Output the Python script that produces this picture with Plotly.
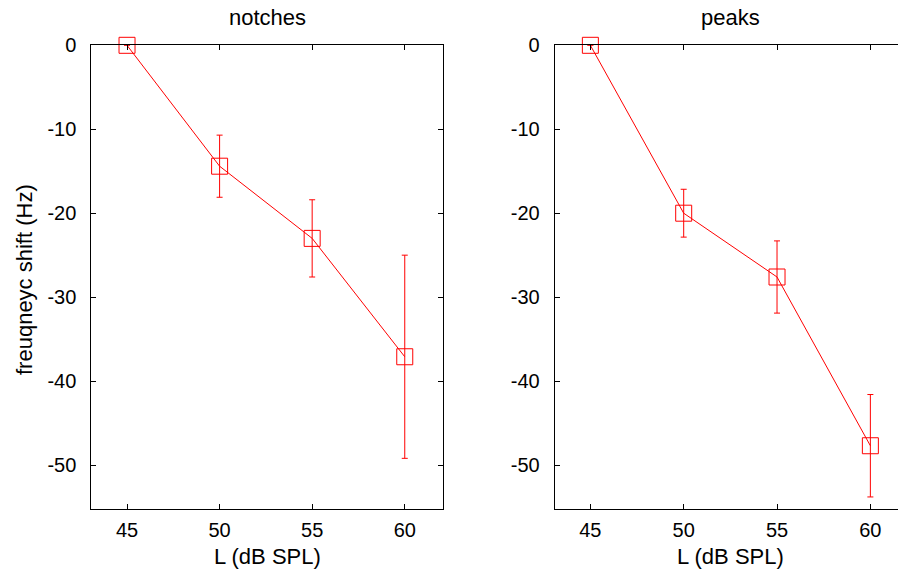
import plotly.graph_objects as go

# Data
levels = [45, 50, 55, 60]
notch_shift = [0.0, -14.4, -23.0, -37.1]
notch_err = [0.0, 3.7, 4.6, 12.1]
peak_shift = [0.0, -20.0, -27.6, -47.7]
peak_err = [0.0, 2.85, 4.3, 6.1]
panel_titles = ["notches", "peaks"]
x_title = "L (dB SPL)"
y_title = "freuqneyc shift (Hz)"
x_ticks = [45, 50, 55, 60]
x_tick_text = ["45", "50", "55", "60"]
y_ticks = [0, -10, -20, -30, -40, -50]
y_tick_text = ["0", "-10", "-20", "-30", "-40", "-50"]

W, H = 898, 570
FONT = "Liberation Sans, Arial, sans-serif"
RED = "#ff0000"

def px_x(p):
    return p / W

def px_y(p):
    return 1 - p / H

fig = go.Figure()
for i, (ys, es) in enumerate([(notch_shift, notch_err), (peak_shift, peak_err)]):
    xa = "x" if i == 0 else "x2"
    ya = "y" if i == 0 else "y2"
    fig.add_trace(go.Scatter(
        x=levels, y=ys, xaxis=xa, yaxis=ya, mode="lines+markers",
        line=dict(color=RED, width=1),
        marker=dict(symbol="square-open", size=16, color=RED, line=dict(width=1, color=RED)),
        error_y=dict(type="data", array=es, visible=True, color=RED, thickness=1, width=3),
        cliponaxis=False,
        showlegend=False,
    ))

axis_common = dict(
    showline=True, linecolor="black", linewidth=1, ticks="inside", ticklen=5,
    tickcolor="black", showgrid=False, zeroline=False, automargin=False,
    tickfont=dict(family=FONT, size=20, color="black"),
)

top, bottom = 45.3, 508.7
fig.update_layout(
    width=W, height=H, margin=dict(l=0, r=0, t=0, b=0, pad=0, autoexpand=False),
    paper_bgcolor="white", plot_bgcolor="white",
    xaxis=dict(domain=[px_x(91.3), px_x(442.7)], range=[43.07, 62.05],
               tickvals=x_ticks, ticktext=x_tick_text,
               mirror="ticks", anchor="y", ticklabelstandoff=3, **axis_common),
    yaxis=dict(domain=[px_y(bottom), px_y(top)], range=[-55.2, 0],
               tickvals=y_ticks, ticktext=y_tick_text,
               mirror="ticks", anchor="x", ticklabelstandoff=10, **axis_common),
    xaxis2=dict(domain=[px_x(554.7), 1.0], range=[43.09, 61.48],
                tickvals=x_ticks, ticktext=x_tick_text,
                mirror="ticks", anchor="y2", ticklabelstandoff=3, **axis_common),
    yaxis2=dict(domain=[px_y(bottom), px_y(top)], range=[-55.2, 0],
                tickvals=y_ticks, ticktext=y_tick_text,
                mirror=False, anchor="x2", ticklabelstandoff=10, **axis_common),
)

ann_font = dict(family=FONT, size=22, color="black")
annotations = [
    dict(text=panel_titles[0], x=px_x(267), y=px_y(18), xref="paper", yref="paper",
         showarrow=False, font=ann_font, xanchor="center", yanchor="middle"),
    dict(text=panel_titles[1], x=px_x(730), y=px_y(18), xref="paper", yref="paper",
         showarrow=False, font=ann_font, xanchor="center", yanchor="middle"),
    dict(text=x_title, x=px_x(267), y=px_y(556), xref="paper", yref="paper",
         showarrow=False, font=ann_font, xanchor="center", yanchor="middle"),
    dict(text=x_title, x=px_x(730), y=px_y(556), xref="paper", yref="paper",
         showarrow=False, font=ann_font, xanchor="center", yanchor="middle"),
    dict(text=y_title, x=px_x(24), y=px_y(280), xref="paper", yref="paper",
         showarrow=False, font=ann_font, xanchor="center", yanchor="middle", textangle=-90),
]
fig.update_layout(annotations=annotations)

fig.write_html(
    "out.html",
    config={"displayModeBar": False},
    post_script="document.body.style.margin='0';document.body.style.overflow='hidden';",
)
